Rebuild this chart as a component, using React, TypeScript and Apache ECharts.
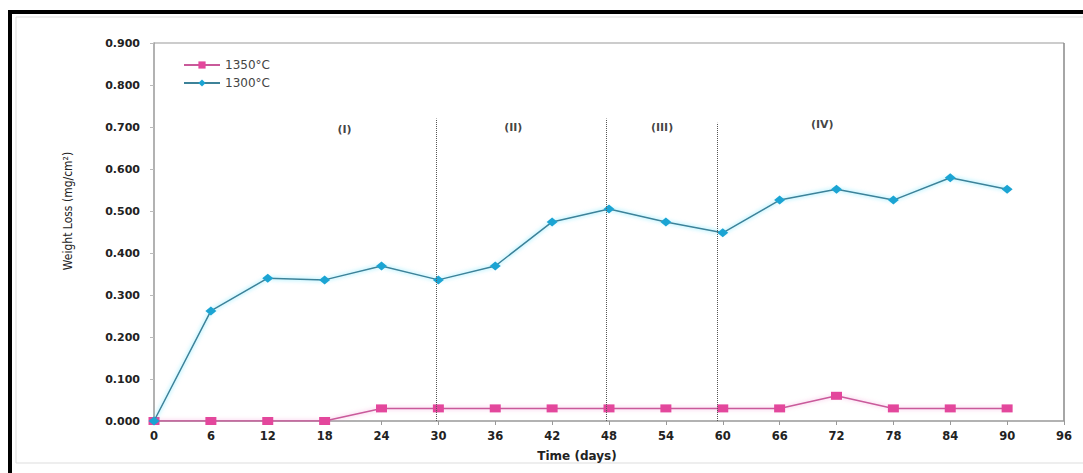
import React, { useEffect, useRef } from "react";
import * as echarts from "echarts";

const days = [0, 6, 12, 18, 24, 30, 36, 42, 48, 54, 60, 66, 72, 78, 84, 90];
const loss1350 = [0, 0, 0, 0, 0.03, 0.03, 0.03, 0.03, 0.03, 0.03, 0.03, 0.03, 0.06, 0.03, 0.03, 0.03];
const loss1300 = [0, 0.262, 0.34, 0.336, 0.369, 0.336, 0.369, 0.474, 0.505, 0.474, 0.448, 0.526, 0.552, 0.526, 0.579, 0.552];
const stageBounds = [29.8, 47.7, 59.4];
const stageTop = [0.72, 0.72, 0.71];
const stageNames = ["(I)", "(II)", "(III)", "(IV)"];
const stageLabelX = [20.1, 37.9, 53.6, 70.5];
const stageLabelY = [0.693, 0.7, 0.7, 0.705];

export default function App() {
  const ref = useRef<HTMLDivElement>(null);
  useEffect(() => {
    if (!ref.current) return;
    const chart = echarts.init(ref.current, null, { renderer: "svg" });
    const axisLabelStyle = {
      fontFamily: "DejaVu Sans",
      fontWeight: "bold" as const,
      fontSize: 11,
      color: "#222",
    };
    chart.setOption({
      animation: false,
      backgroundColor: "#fff",
      grid: { left: 154, top: 43, right: 19, bottom: 52, containLabel: false },
      legend: {
        left: 178,
        top: 54,
        orient: "vertical",
        itemGap: 6,
        itemWidth: 36,
        itemHeight: 9,
        textStyle: { fontFamily: "DejaVu Sans", fontSize: 12, color: "#444" },
        data: ["1350°C", "1300°C"],
      },
      xAxis: {
        type: "value",
        min: 0,
        max: 96,
        interval: 6,
        axisLine: { show: true, lineStyle: { color: "#999", width: 1.5 } },
        axisTick: { show: true, length: 4, lineStyle: { color: "#999" } },
        axisLabel: { ...axisLabelStyle, margin: 9, fontSize: 11.5 },
        splitLine: { show: false },
      },
      yAxis: {
        type: "value",
        min: 0,
        max: 0.9,
        interval: 0.1,
        axisLine: { show: true, lineStyle: { color: "#999", width: 1.5 } },
        axisTick: { show: true, length: 4, lineStyle: { color: "#bbb" } },
        axisLabel: { ...axisLabelStyle, margin: 14, formatter: (v: number) => v.toFixed(3) },
        splitLine: { show: false },
      },
      graphic: [
        {
          type: "rect",
          silent: true,
          shape: { x: 10, y: 12, width: 1200, height: 600 },
          style: { fill: "none", stroke: "#000", lineWidth: 4 },
          z: 100,
        },
        {
          type: "rect",
          silent: true,
          shape: { x: 16, y: 17, width: 1200, height: 446 },
          style: { fill: "none", stroke: "#ddd", lineWidth: 1 },
        },
        {
          type: "line",
          silent: true,
          shape: { x1: 154, y1: 43, x2: 1064, y2: 43 },
          style: { stroke: "#bbb", lineWidth: 1.5 },
        },
        {
          type: "line",
          silent: true,
          shape: { x1: 1064, y1: 43, x2: 1064, y2: 421 },
          style: { stroke: "#888", lineWidth: 1.5 },
        },
        {
          type: "text",
          x: 68,
          y: 211,
          rotation: Math.PI / 2,
          style: {
            text: "Weight Loss (mg/cm²)",
            fontFamily: "'DejaVu Sans Condensed', 'Liberation Sans', sans-serif",
            fontSize: 12,
            fill: "#222",
            align: "center",
            verticalAlign: "middle",
          },
        },
        {
          type: "text",
          x: 577,
          y: 456,
          style: {
            text: "Time (days)",
            fontFamily: "DejaVu Sans",
            fontWeight: "bold",
            fontSize: 12,
            fill: "#222",
            align: "center",
            verticalAlign: "middle",
          },
        },
      ],
      series: [
        {
          name: "1350°C",
          type: "line",
          data: days.map((d, i) => [d, loss1350[i]]),
          symbol: "rect",
          symbolSize: [11, 8],
          itemStyle: { color: "#e3479c" },
          lineStyle: { color: "#c95a9a", width: 1.5, shadowColor: "rgba(240,120,200,0.6)", shadowBlur: 4 },
          z: 2,
          markLine: {
            silent: true,
            symbol: "none",
            label: { show: false },
            lineStyle: { color: "#555", type: "dotted", width: 1 },
            data: stageBounds.map((b, i) => [
              { coord: [b, 0] },
              { coord: [b, stageTop[i]] },
            ]),
          },
        },
        {
          name: "1300°C",
          type: "line",
          data: days.map((d, i) => [d, loss1300[i]]),
          symbol: "diamond",
          symbolSize: [11, 9],
          itemStyle: { color: "#1ba4d3" },
          lineStyle: { color: "#3d8298", width: 1.5, shadowColor: "rgba(0,210,255,0.6)", shadowBlur: 4 },
          z: 3,
        },
        {
          name: "stages",
          type: "scatter",
          symbolSize: 0,
          silent: true,
          data: stageNames.map((n, i) => ({ name: n, value: [stageLabelX[i], stageLabelY[i]] })),
          label: {
            show: true,
            position: "inside",
            formatter: (p: any) => p.name,
            fontFamily: "DejaVu Sans",
            fontWeight: "bold",
            fontSize: 11,
            color: "#111",
          },
        },
      ],
    });
    return () => chart.dispose();
  }, []);
  return (
    <div
      ref={ref}
      style={{ position: "fixed", left: 0, top: 0, width: 1083, height: 473 }}
    />
  );
}
